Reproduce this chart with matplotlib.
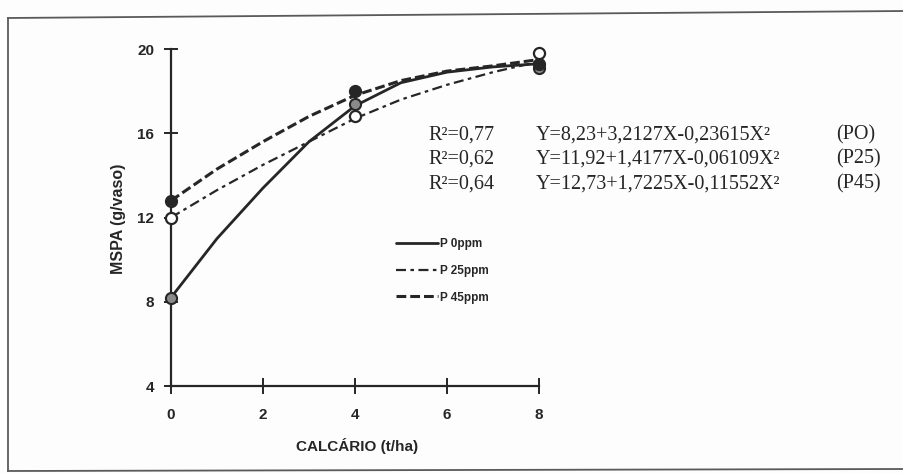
import matplotlib
matplotlib.use('Agg')
import matplotlib.pyplot as plt
from matplotlib.lines import Line2D

W, H = 904, 473

# ---- data ----
x_curve = [0, 1, 2, 3, 4, 5, 6, 7, 8]
p0_curve = [8.2, 11.0, 13.4, 15.6, 17.3, 18.4, 18.9, 19.15, 19.3]
p25_curve = [12.0, 13.3, 14.5, 15.6, 16.7, 17.6, 18.3, 18.9, 19.4]
p45_curve = [12.8, 14.3, 15.6, 16.8, 17.8, 18.5, 18.95, 19.2, 19.5]

x_obs = [0, 4, 8]
p0_obs = [8.2, 17.4, 19.1]
p25_obs = [12.0, 16.8, 19.8]
p45_obs = [12.8, 18.0, 19.3]

series_labels = ['P 0ppm', 'P 25ppm', 'P 45ppm']
x_ticks = [0, 2, 4, 6, 8]
y_ticks = [4, 8, 12, 16, 20]
x_label = 'CALCÁRIO (t/ha)'
y_label = 'MSPA (g/vaso)'
r2_labels = ['R²=0,77', 'R²=0,62', 'R²=0,64']
eq_labels = ['Y=8,23+3,2127X-0,23615X²',
             'Y=11,92+1,4177X-0,06109X²',
             'Y=12,73+1,7225X-0,11552X²']
eq_tags = ['(PO)', '(P25)', '(P45)']

# ---- styling ----
INK = '#262626'
SANS = ['Liberation Sans Narrow', 'Liberation Sans', 'DejaVu Sans']
SERIF = ['Liberation Serif', 'DejaVu Serif']

fig = plt.figure(figsize=(W / 100, H / 100), dpi=100, facecolor='#fdfdfd')
ax = fig.add_axes([171 / W, 1 - 386 / H, (539 - 171) / W, (386 - 49) / H])
ax.set_facecolor('none')

ax.set_xlim(0, 8)
ax.set_ylim(4, 20)
for s in ['top', 'right']:
    ax.spines[s].set_visible(False)
for s in ['left', 'bottom']:
    ax.spines[s].set_color(INK)
    ax.spines[s].set_linewidth(1.6)

ax.set_xticks(x_ticks)
ax.set_yticks(y_ticks)
ax.set_xticklabels([str(v) for v in x_ticks])
ax.set_yticklabels([str(v) for v in y_ticks])
ax.tick_params(axis='y', direction='inout', length=10, width=1.4, color=INK, pad=7)
ax.tick_params(axis='x', direction='inout', length=11, width=1.4, color=INK, pad=10)
for lab in ax.get_xticklabels() + ax.get_yticklabels():
    lab.set_family(SANS)
    lab.set_fontweight('bold')
    lab.set_fontsize(11)
    lab.set_color(INK)

# curves
l0, = ax.plot(x_curve, p0_curve, color=INK, lw=2.0, solid_capstyle='round',
              clip_on=False, zorder=3)
l25, = ax.plot(x_curve, p25_curve, color=INK, lw=1.6,
               dashes=[4.5, 2.0, 1.6, 2.0], clip_on=False, zorder=3)
l45, = ax.plot(x_curve, p45_curve, color=INK, lw=2.2,
               dashes=[3.2, 1.3], clip_on=False, zorder=3)

# observed points
ax.plot(x_obs, p0_obs, ls='none', marker='o', ms=8, mfc='#8a8a8a', mec=INK,
        mew=1.5, clip_on=False, zorder=4)
ax.plot(x_obs, p25_obs, ls='none', marker='o', ms=8, mfc='white', mec=INK,
        mew=1.6, clip_on=False, zorder=5)
ax.plot(x_obs, p45_obs, ls='none', marker='o', ms=8.5, mfc=INK, mec=INK,
        clip_on=False, zorder=4)

# legend
leg = ax.legend([l0, l25, l45], series_labels, loc='upper left',
                bbox_to_anchor=(396 / W, 1 - 238 / H),
                bbox_transform=fig.transFigure, frameon=False,
                handlelength=3.6, handletextpad=0.15, labelspacing=1.25,
                borderpad=0, borderaxespad=0,
                prop={'family': SANS, 'weight': 'bold', 'size': 8.5})
for t in leg.get_texts():
    t.set_color(INK)

# axis labels
fig.text(357 / W, 1 - 446 / H, x_label, ha='center', va='center',
         family=SANS, weight='bold', fontsize=11, color=INK)
fig.text(118 / W, 1 - 219 / H, y_label, ha='center', va='center',
         rotation=90, family=SANS, weight='bold', fontsize=11.5, color=INK)

# regression equations
rows_y = [135, 159, 184]
for yy, r2, eq, tag in zip(rows_y, r2_labels, eq_labels, eq_tags):
    fig.text(428 / W, 1 - yy / H, r2, ha='left', va='center',
             family=SERIF, fontsize=14.5, color=INK)
    fig.text(536 / W, 1 - yy / H, eq, ha='left', va='center',
             family=SERIF, fontsize=14.5, color=INK)
    fig.text(836 / W, 1 - yy / H, tag, ha='left', va='center',
             family=SERIF, fontsize=14.5, color=INK)

# scanned page frame
frame_kw = dict(color='#5a5a5a', lw=1.3, transform=fig.transFigure)
fig.add_artist(Line2D([8 / W, 8 / W], [1 - 18 / H, 1 - 471 / H], **frame_kw))
fig.add_artist(Line2D([8 / W, 1.0], [1 - 18 / H, 1 - 11 / H], **frame_kw))
fig.add_artist(Line2D([8 / W, 1.0], [1 - 471 / H, 1 - 469 / H], **frame_kw))

fig.savefig('out.png', dpi=100, facecolor=fig.get_facecolor())
